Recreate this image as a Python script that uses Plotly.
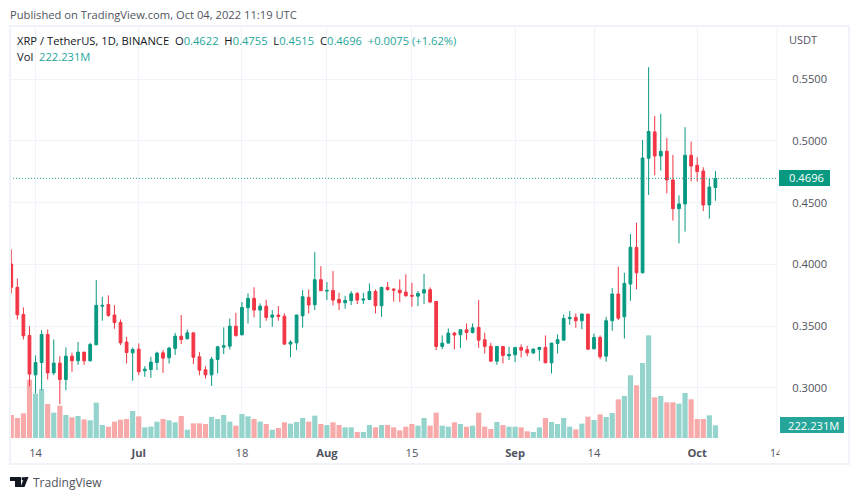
import pandas as pd
import plotly.graph_objects as go

# ── Data ───────────────────────────────────────────────────────────────────
dates = pd.date_range("2022-06-10", "2022-10-04", freq="D")

opens = [
    .4003, .3814, .3595, .3425, .3106, .3206, .3433, .3122, .3201, .3068, .3257, .3220, .3290, .3220, .3349, .3662, .3676, .3590, .3530, .3371, .3284,
    .3314, .3139, .3149, .3206, .3284, .3244, .3320, .3419, .3398, .3446, .3252, .3147, .3106, .3230, .3330, .3338, .3500, .3430, .3649, .3725, .3630, .3662, .3573, .3590, .3581, .3355, .3365, .3584, .3733, .3673, .3876,
    .3784, .3789, .3716, .3689, .3706, .3765, .3711, .3716, .3781, .3665, .3814, .3800, .3792, .3776, .3749, .3743, .3768, .3795, .3700, .3336, .3363, .3444, .3430, .3471, .3449, .3490, .3390, .3338, .3217, .3336, .3260,
    .3268, .3328, .3309, .3284, .3311, .3328, .3203, .3360, .3387, .3560, .3571, .3544, .3598, .3317, .3409, .3257, .3544, .3760, .3576, .3841, .4138, .3932, .4859, .5072, .4877, .4915, .4683, .4451, .4489, .4883,
    .4802, .4756, .4481, .4622,
]
highs = [
    .4121, .3884, .3652, .3500, .3263, .3468, .3473, .3392, .3257, .3328, .3284, .3371, .3290, .3365, .3873, .3738, .3749, .3671, .3554, .3414, .3328,
    .3360, .3176, .3252, .3293, .3306, .3333, .3446, .3590, .3473, .3446, .3290, .3176, .3252, .3338, .3490, .3562, .3608, .3695, .3765, .3814, .3684, .3714, .3630, .3662, .3603, .3387, .3592, .3792, .3797, .4100, .3986,
    .3857, .3946, .3770, .3746, .3784, .3776, .3770, .3846, .3797, .3814, .3857, .3806, .3878, .3919, .3851, .3784, .3922, .3814, .3700, .3425, .3481, .3454, .3473, .3522, .3522, .3711, .3446, .3365, .3338, .3338, .3333,
    .3328, .3352, .3341, .3320, .3333, .3425, .3365, .3433, .3595, .3622, .3603, .3603, .3598, .3441, .3425, .3576, .3808, .3981, .3932, .4246, .4337, .5007, .5596, .5201, .5218, .5023, .4886, .4559, .5110, .4994,
    .4867, .4786, .4697, .4755,
]
lows = [
    .3765, .3554, .3392, .3014, .2955, .2982, .3068, .3103, .2869, .2982, .3131, .3187, .3187, .3214, .3347, .3544, .3576, .3479, .3347, .3198, .3058,
    .3103, .3090, .3082, .3144, .3122, .3198, .3268, .3355, .3392, .3193, .3103, .3077, .3017, .3117, .3274, .3311, .3414, .3425, .3522, .3571, .3484, .3544, .3495, .3544, .3347, .3249, .3306, .3487, .3603, .3630, .3787,
    .3711, .3668, .3630, .3641, .3671, .3679, .3679, .3711, .3603, .3576, .3787, .3698, .3695, .3738, .3657, .3662, .3679, .3689, .3306, .3314, .3360, .3311, .3322, .3387, .3441, .3325, .3279, .3212, .3187, .3198, .3225,
    .3209, .3247, .3257, .3274, .3220, .3203, .3117, .3279, .3387, .3511, .3487, .3476, .3306, .3311, .3233, .3212, .3463, .3549, .3400, .3706, .3797, .3927, .4562, .4721, .4759, .4575, .4354, .4170, .4265, .4670,
    .4670, .4432, .4370, .4515,
]
closes = [
    .3814, .3592, .3422, .3112, .3206, .3433, .3122, .3201, .3068, .3257, .3220, .3290, .3220, .3352, .3668, .3668, .3587, .3530, .3365, .3287, .3311,
    .3131, .3152, .3209, .3282, .3241, .3322, .3419, .3392, .3446, .3249, .3144, .3106, .3233, .3333, .3341, .3500, .3425, .3652, .3725, .3630, .3662, .3571, .3590, .3579, .3355, .3371, .3590, .3738, .3671, .3876, .3787,
    .3789, .3711, .3689, .3708, .3762, .3711, .3719, .3781, .3665, .3814, .3797, .3792, .3770, .3746, .3743, .3765, .3795, .3695, .3336, .3363, .3444, .3428, .3471, .3449, .3487, .3387, .3336, .3217, .3336, .3263, .3271,
    .3328, .3306, .3284, .3314, .3328, .3203, .3363, .3390, .3562, .3571, .3544, .3598, .3314, .3409, .3252, .3544, .3760, .3565, .3846, .4138, .3932, .4861, .5075, .4877, .4915, .4683, .4451, .4489, .4883, .4796,
    .4751, .4481, .4626, .4696,
]
volumes = [
    404, 351, 433, 1024, 778, 860, 597, 445, 567, 404, 363, 386, 328, 310, 620, 228, 199, 287, 322, 333, 474,
    380, 187, 199, 287, 333, 310, 275, 386, 146, 257, 257, 246, 369, 333, 404, 287, 216, 421, 380, 333, 287, 246, 146, 176, 275, 252, 281, 351, 287, 392, 246,
    228, 275, 228, 187, 187, 105, 105, 228, 187, 228, 228, 187, 135, 199, 246, 216, 351, 216, 445, 216, 199, 275, 246, 199, 216, 445, 199, 158, 281, 228, 199,
    199, 187, 117, 105, 187, 351, 281, 246, 351, 199, 152, 252, 374, 316, 415, 369, 439, 679, 737, 1100, 924, 1316, 1802, 714, 737, 626, 626, 603, 790, 679,
    333, 333, 398, 222.231,
]

price_ticks = [0.30, 0.35, 0.40, 0.45, 0.50, 0.55]
date_ticks = ["2022-06-14", "2022-07-01", "2022-07-18", "2022-08-01", "2022-08-15",
              "2022-09-01", "2022-09-14", "2022-10-01", "2022-10-14"]
date_labels = ["14", "<b>Jul</b>", "18", "<b>Aug</b>", "15", "<b>Sep</b>", "14", "<b>Oct</b>", "14"]
last_price = 0.4696

# ── Colours ────────────────────────────────────────────────────────────────
UP        = "#089981"
DOWN      = "#f23645"
UP_VOL    = "#94d4cd"
DOWN_VOL  = "#f8a9a9"
TEAL      = "#26a69a"
GRID      = "#f0f3fa"
TEXT      = "#131722"
GRAY_TEXT = "#50535e"
FONT      = "Open Sans"

# pane rectangle in page pixels
L, R, T, B = 10, 777, 26, 438


def px(x):
    return (x - L) / (R - L)


def py(y):
    return (B - y) / (B - T)


vol_colors = [UP_VOL if c >= o else DOWN_VOL for o, c in zip(opens, closes)]

fig = go.Figure()
fig.add_trace(go.Bar(x=dates, y=volumes, marker_color=vol_colors, marker_line_width=0,
                     yaxis="y", name="Vol"))
fig.add_trace(go.Candlestick(
    x=dates, open=opens, high=highs, low=lows, close=closes, yaxis="y2", name="XRP",
    whiskerwidth=0,
    increasing=dict(line=dict(color=UP, width=1), fillcolor=UP),
    decreasing=dict(line=dict(color=DOWN, width=1), fillcolor=DOWN),
))

shapes = [
    # last price line
    dict(type="line", xref="paper", yref="y2", x0=0, x1=1, y0=last_price, y1=last_price,
         line=dict(color=TEAL, width=1, dash="1px,2px")),
    # outer frame and price-scale separator
    dict(type="rect", xref="paper", yref="paper", x0=px(10), x1=px(849), y0=py(26), y1=py(464),
         line=dict(color=GRID, width=2)),
    dict(type="line", xref="paper", yref="paper", x0=1, x1=1, y0=0, y1=1,
         line=dict(color=GRID, width=1)),
    # hides the right half of the clipped last date label
    dict(type="rect", xref="paper", yref="paper", x0=px(779.5), x1=px(795), y0=py(444), y1=py(461),
         fillcolor="white", line_width=0),
    # price and volume tags
    dict(type="rect", xref="paper", yref="paper", x0=px(779), x1=px(830), y0=py(170), y1=py(186),
         fillcolor=UP, line_width=0),
    dict(type="rect", xref="paper", yref="paper", x0=px(780), x1=px(844), y0=py(417), y1=py(433),
         fillcolor=TEAL, line_width=0),
    # logo
    dict(type="path", xref="paper", yref="paper", fillcolor=TEXT, line_width=0,
         path=f"M {px(10)},{py(477)} L {px(21)},{py(477)} L {px(21)},{py(487)} L {px(15)},{py(487)} "
              f"L {px(15)},{py(481)} L {px(10)},{py(481)} Z"),
    dict(type="circle", xref="paper", yref="paper", fillcolor=TEXT, line_width=0,
         x0=px(21.5), x1=px(24.5), y0=py(477), y1=py(480.5)),
    dict(type="path", xref="paper", yref="paper", fillcolor=TEXT, line_width=0,
         path=f"M {px(24.5)},{py(477)} L {px(28.5)},{py(477)} L {px(24.5)},{py(487)} L {px(20.5)},{py(487)} Z"),
]


def note(x, y, text, size=11.2, color=GRAY_TEXT, anchor="left"):
    fig.add_annotation(x=px(x), y=py(y), xref="paper", yref="paper", text=text, showarrow=False,
                       xanchor=anchor, yanchor="middle", align="left", borderpad=0, borderwidth=0,
                       font=dict(family=FONT, size=size, color=color))


def val(v):
    return f"<span style='color:{TEAL}'>{v}</span>"


note(10, 15, "Published on TradingView.com, Oct 04, 2022 11:19 UTC")
note(17, 41, "XRP / TetherUS, 1D, BINANCE  O" + val("0.4622") + "  H" + val("0.4755")
     + "  L" + val("0.4515") + "  C" + val("0.4696") + "  " + val("+0.0075 (+1.62%)"), color=TEXT)
note(17, 57, "Vol  " + val("222.231M"), color=TEXT)
note(789, 40, "USDT", size=11)
note(789, 178, "0.4696", color="white")
note(788, 425, "222.231M", color="white")
note(33, 482, "TradingView", size=12)

fig.update_layout(
    width=859, height=499,
    margin=dict(l=L, r=859 - R, t=T, b=499 - B, pad=0),
    paper_bgcolor="white", plot_bgcolor="white",
    showlegend=False,
    bargap=0.15, boxgap=0.35,
    shapes=shapes,
    font=dict(family=FONT, size=11.2, color=GRAY_TEXT),
    xaxis=dict(
        type="date", range=["2022-06-09 19:00", "2022-10-14 03:30"],
        rangeslider=dict(visible=False),
        tickmode="array", tickvals=date_ticks, ticktext=date_labels,
        tickangle=0, ticks="outside", ticklen=5, tickcolor="rgba(0,0,0,0)",
        showgrid=True, gridcolor=GRID, gridwidth=1, zeroline=False, showline=False,
        tickfont=dict(family=FONT, size=11.2, color=GRAY_TEXT),
    ),
    yaxis=dict(range=[0, 7231], visible=False, fixedrange=True),
    yaxis2=dict(
        overlaying="y", side="right", range=[0.2595, 0.5929],
        tickmode="array", tickvals=price_ticks, ticktext=[f"{p:.4f}" for p in price_ticks],
        ticks="outside", ticklen=12, tickcolor="rgba(0,0,0,0)",
        showgrid=True, gridcolor=GRID, gridwidth=1, zeroline=False, showline=False,
        tickfont=dict(family=FONT, size=11.2, color=GRAY_TEXT),
    ),
)

# the page's default body margin would push the chart off the window
fig.write_html("out.html", config={"displayModeBar": False},
               post_script="document.body.style.margin = '0';")
